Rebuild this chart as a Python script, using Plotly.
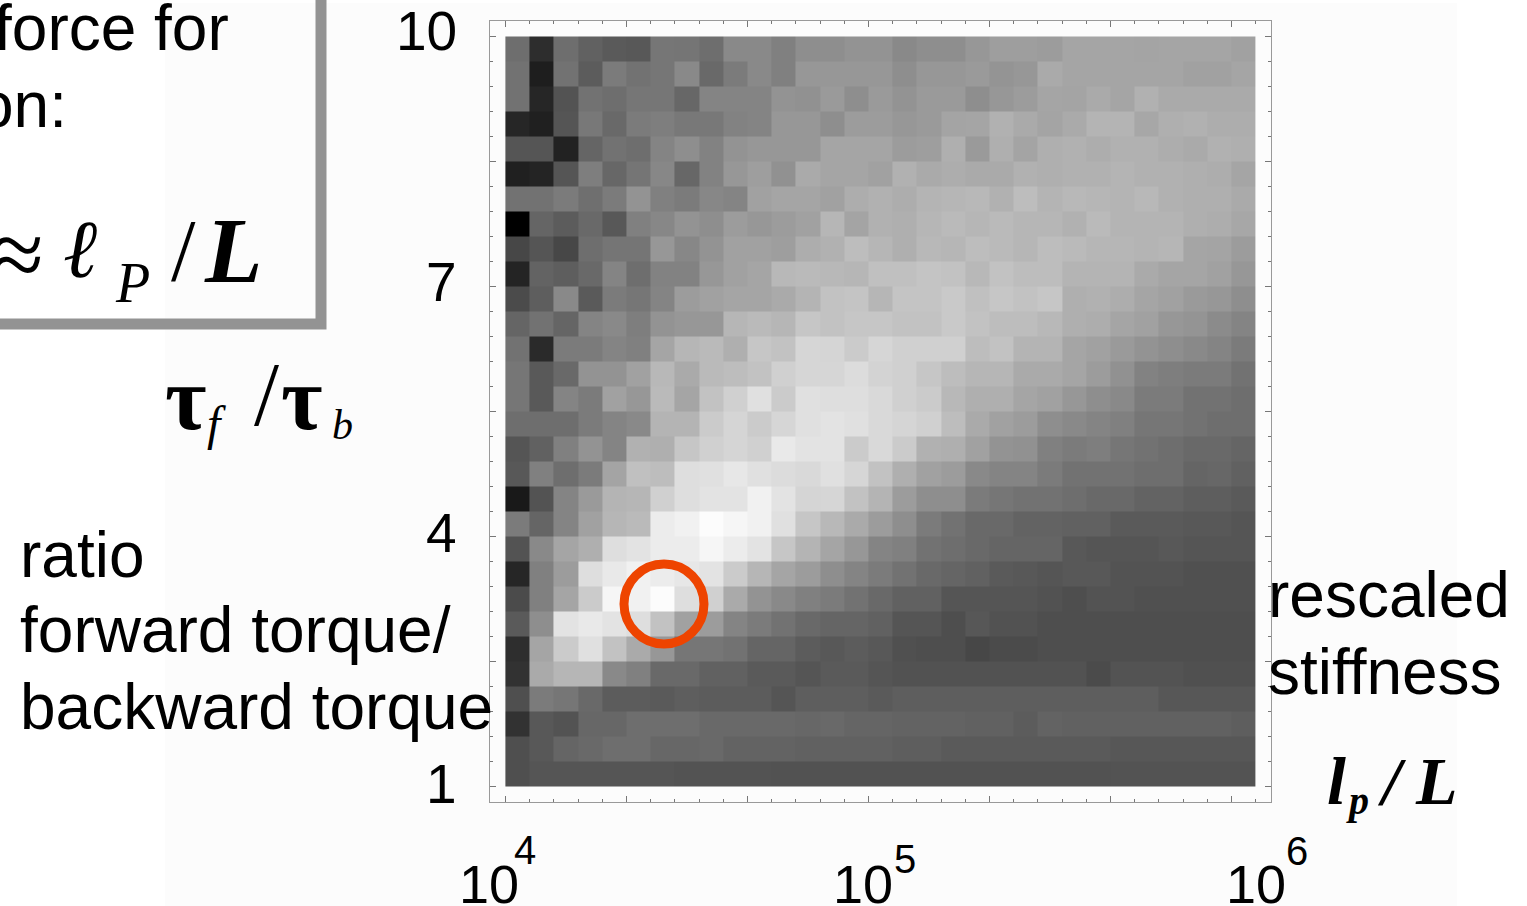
import plotly.graph_objects as go

W, H = 1527, 906

# Gray level (0 black .. 255 white), rows from top (y=10) to bottom (y=1), columns left (1e4) to right (1e6+)
row_00 = [100,45,100,85,78,75,110,108,100,130,130,120,135,135,140,140,130,135,135,145,152,152,150,160,160,160,158,160,160,160,155]
row_01 = [105,30,105,80,115,105,110,130,95,115,130,120,145,145,145,145,135,145,145,148,142,145,165,160,160,160,160,160,155,155,160]
row_02 = [105,38,70,105,100,110,110,92,125,125,125,140,138,148,135,148,140,148,148,135,145,150,160,158,165,160,172,165,165,165,165]
row_03 = [38,32,72,112,95,115,118,112,112,122,125,145,145,135,150,150,145,148,158,160,172,165,158,165,175,175,162,170,172,168,168]
row_04 = [72,72,34,90,105,100,125,135,122,140,145,145,145,160,160,160,150,152,170,148,170,158,170,172,168,172,172,168,165,172,170]
row_05 = [32,36,72,118,92,108,128,92,122,145,152,138,165,160,160,155,172,165,168,165,165,172,170,172,172,175,172,172,170,168,160]
row_06 = [105,105,115,102,115,140,120,115,128,125,155,160,160,155,168,172,168,175,178,180,172,185,175,180,178,175,180,172,170,170,165]
row_07 = [0,90,80,95,75,120,128,140,135,150,145,150,155,178,158,172,170,178,182,178,182,178,178,172,182,175,175,175,170,168,162]
row_08 = [60,72,60,100,108,108,145,128,140,155,155,152,168,172,185,178,170,180,178,185,182,178,185,182,178,178,175,178,160,158,150]
row_09 = [36,88,82,95,125,100,122,122,145,155,160,180,182,180,178,188,188,192,190,180,190,185,185,175,175,175,165,160,160,155,145]
row_10 = [62,82,130,78,115,110,125,150,155,160,160,165,175,190,192,178,192,192,198,188,195,190,195,170,172,168,160,155,148,145,135]
row_11 = [90,105,90,125,130,118,140,145,145,178,182,178,195,190,195,195,190,190,198,190,185,185,180,170,168,160,155,145,142,132,125]
row_12 = [105,42,115,115,125,120,160,178,182,170,195,190,212,210,200,212,205,205,205,185,190,175,175,160,155,148,140,135,130,125,115]
row_13 = [110,76,95,140,140,155,180,165,182,185,190,205,212,212,218,208,205,195,185,178,178,165,165,160,150,138,122,118,115,115,105]
row_14 = [110,76,125,115,155,145,182,160,190,205,222,200,222,220,220,215,205,200,180,170,170,160,155,145,135,130,115,115,105,105,100]
row_15 = [100,100,100,115,125,130,175,175,200,210,200,212,222,225,222,215,210,205,185,165,155,150,135,130,125,120,110,110,105,100,100]
row_16 = [72,85,120,140,125,172,170,195,205,210,205,232,225,225,200,215,200,172,170,155,140,138,120,115,118,110,105,100,95,95,90]
row_17 = [75,120,100,115,158,188,185,220,222,230,222,218,215,222,212,190,170,155,150,130,125,125,115,105,105,105,100,100,90,92,85]
row_18 = [25,70,125,148,175,178,205,220,225,225,240,225,210,212,190,175,150,135,135,115,110,105,105,100,95,95,88,88,82,82,78]
row_19 = [115,90,125,155,178,182,235,240,252,245,240,222,195,180,165,150,135,115,105,95,95,88,88,85,85,78,78,78,75,75,72]
row_20 = [70,130,160,170,220,225,235,235,245,235,225,195,175,160,145,125,120,105,100,95,90,90,90,75,72,72,72,75,72,72,72]
row_21 = [38,120,150,220,232,240,235,230,225,200,178,160,150,135,125,115,105,95,90,85,78,75,72,75,75,70,70,70,66,66,66]
row_22 = [62,120,160,200,245,240,252,220,205,165,140,130,120,115,105,95,85,85,72,72,72,72,68,64,70,70,66,66,66,66,66]
row_23 = [78,135,225,232,225,220,190,155,150,125,115,105,95,90,90,85,72,72,64,74,68,68,64,64,64,64,64,64,64,64,64]
row_24 = [46,160,200,222,190,165,145,110,110,105,90,90,80,75,80,75,66,64,64,60,62,62,64,64,64,64,64,64,64,64,64]
row_25 = [48,165,178,178,130,120,95,95,85,85,78,78,72,78,78,72,68,68,68,68,68,68,68,68,62,70,70,70,66,66,66]
row_26 = [65,115,110,95,80,80,78,82,80,80,80,72,82,82,82,78,82,82,82,82,82,82,82,82,82,82,82,74,74,74,74]
row_27 = [48,75,70,92,92,100,100,100,95,95,95,95,92,95,90,90,88,88,88,86,86,80,88,85,85,85,85,85,85,85,82]
row_28 = [65,75,90,95,100,100,92,92,95,88,88,88,85,85,85,85,82,82,78,78,78,78,78,78,78,74,74,74,74,74,74]
row_29 = [65,72,72,72,72,72,72,70,70,70,70,68,68,68,68,68,68,68,68,68,68,68,68,68,68,70,70,70,70,70,70]

rows = [row_00,row_01,row_02,row_03,row_04,row_05,row_06,row_07,row_08,row_09,
        row_10,row_11,row_12,row_13,row_14,row_15,row_16,row_17,row_18,row_19,
        row_20,row_21,row_22,row_23,row_24,row_25,row_26,row_27,row_28,row_29]
z = rows[::-1]

y_major = [1, 2.5, 4, 5.5, 7, 8.5, 10]

x_exp_edges = [4 + i / 15 for i in range(32)]
y_edges = [1 + i * 0.3 for i in range(31)]
x_edges = [10 ** e for e in x_exp_edges]
x_major = [10 ** (4 + i / 3) for i in range(7)]
x_minor = [10 ** (4 + i / 15) for i in range(33)]
y_minor = y_edges

# plot frame in page pixels
FL, FR, FT, FB = 490, 1271, 21, 802
pxx = 363.0
pxy = 250 / 3.0
xr = [4 - (505.4 - FL) / pxx, 4 + (FR - 505.4) / pxx]
yr = [1 - (FB - 786.5) / pxy, 10 + (36.5 - FT) / pxy]

fig = go.Figure(go.Heatmap(
    x=x_edges, y=y_edges, z=z, zmin=0, zmax=255,
    colorscale=[[0, "rgb(0,0,0)"], [0.18, "rgb(46,46,46)"], [0.25, "rgb(78,78,78)"],
                [0.43, "rgb(118,118,118)"], [1, "rgb(255,255,255)"]],
    showscale=False, hoverinfo="skip",
))

tick_color = "#777777"
axis_common = dict(showgrid=False, zeroline=False, showline=True, linecolor="#999999",
                   linewidth=1, mirror="ticks", ticks="inside", ticklen=6, tickwidth=1,
                   tickcolor=tick_color, automargin=False, showticklabels=False)

fig.update_xaxes(type="log", range=xr, domain=[FL / W, FR / W], tickmode="array",
                 tickvals=x_major,
                 minor=dict(tickmode="array", tickvals=x_minor, ticks="inside", ticklen=3,
                            tickcolor=tick_color, tickwidth=1),
                 **axis_common)
fig.update_yaxes(range=yr, domain=[1 - FB / H, 1 - FT / H], tickmode="array",
                 tickvals=y_major,
                 minor=dict(tickmode="array", tickvals=y_minor, ticks="inside", ticklen=3,
                            tickcolor=tick_color, tickwidth=1),
                 **axis_common)

SANS = "Liberation Sans"
SERIF = "Liberation Serif"

def label(text, x, y, size, anchor="left", family=SANS):
    fig.add_annotation(text=text, x=x / W, y=1 - y / H, xref="paper", yref="paper",
                       xanchor=anchor, yanchor="middle", showarrow=False, borderpad=0,
                       font=dict(family=family, size=size, color="#000000"))

for txt, x, y, a in [("force for", 230, 28, "right"), ("on:", 68, 105, "right"),
                     ("ratio", 19, 555, "left"), ("forward torque/", 19, 630, "left"),
                     ("backward torque", 19, 707, "left"), ("rescaled", 1267, 595, "left"),
                     ("stiffness", 1267, 672, "left")]:
    label(txt, x, y, 64, a)

# y tick labels
for txt, y in [("10", 31), ("7", 282), ("4", 533), ("1", 784)]:
    label(txt, 458, y, 55, "right")

# approx l_p / L inside the box
label("≈", 45, 254, 96, "right", SERIF)
label("<i>ℓ</i>", 62, 248, 82, "left", "DejaVu Serif")
label("<i>P</i>", 114, 283, 56, "left", SERIF)
label("/", 170, 250, 88, "left", SERIF)
label("<b><i>L</i></b>", 203, 250, 94, "left", SERIF)

# tau_f / tau_b
label("<b>τ</b>", 164, 398, 90, "left", SERIF)
label("<i>f</i>", 206, 424, 48, "left", SERIF)
label("/", 253, 394, 90, "left", SERIF)
label("<b>τ</b>", 280, 398, 90, "left", SERIF)
label("<i>b</i>", 331, 425, 42, "left", SERIF)

# l_p / L right
label("<b><i>l</i></b>", 1326, 781, 68, "left", SERIF)
label("<b><i>p</i></b>", 1345, 800, 40, "left", SERIF)
label("<b><i>/</i></b>", 1376, 781, 68, "left", SERIF)
label("<b><i>L</i></b>", 1414, 781, 68, "left", SERIF)

# x tick labels
for base_x, exp, exp_x, exp_y, txt in [(458, "4", 513, 850, "10"), (832, "5", 893, 859, "10"), (1225, "6", 1285, 851, "10")]:
    label(txt, base_x, 884, 54)
    label(exp, exp_x, exp_y, 40)

shapes = [
    dict(type="rect", xref="paper", yref="paper", x0=165 / W, x1=1457 / W, y0=0, y1=1 - 3 / H,
         fillcolor="#fcfcfc", line_width=0, layer="below"),
    dict(type="rect", xref="paper", yref="paper", x0=-20 / W, x1=321 / W, y0=1 - 324 / H, y1=1 + 20 / H,
         line=dict(color="#939393", width=11), fillcolor="rgba(0,0,0,0)", layer="below"),
    dict(type="circle", xref="paper", yref="paper", x0=624 / W, x1=704 / W,
         y0=1 - 644 / H, y1=1 - 564 / H, line=dict(color="#ee4400", width=9)),
]
fig.update_layout(width=W, height=H, margin=dict(l=0, r=0, t=0, b=0), autosize=False,
                  paper_bgcolor="#ffffff", plot_bgcolor="#ffffff", shapes=shapes, showlegend=False)

fig.write_html("out.html", config={"displayModeBar": False},
               post_script="document.body.style.margin='0';document.body.style.overflow='hidden';")
